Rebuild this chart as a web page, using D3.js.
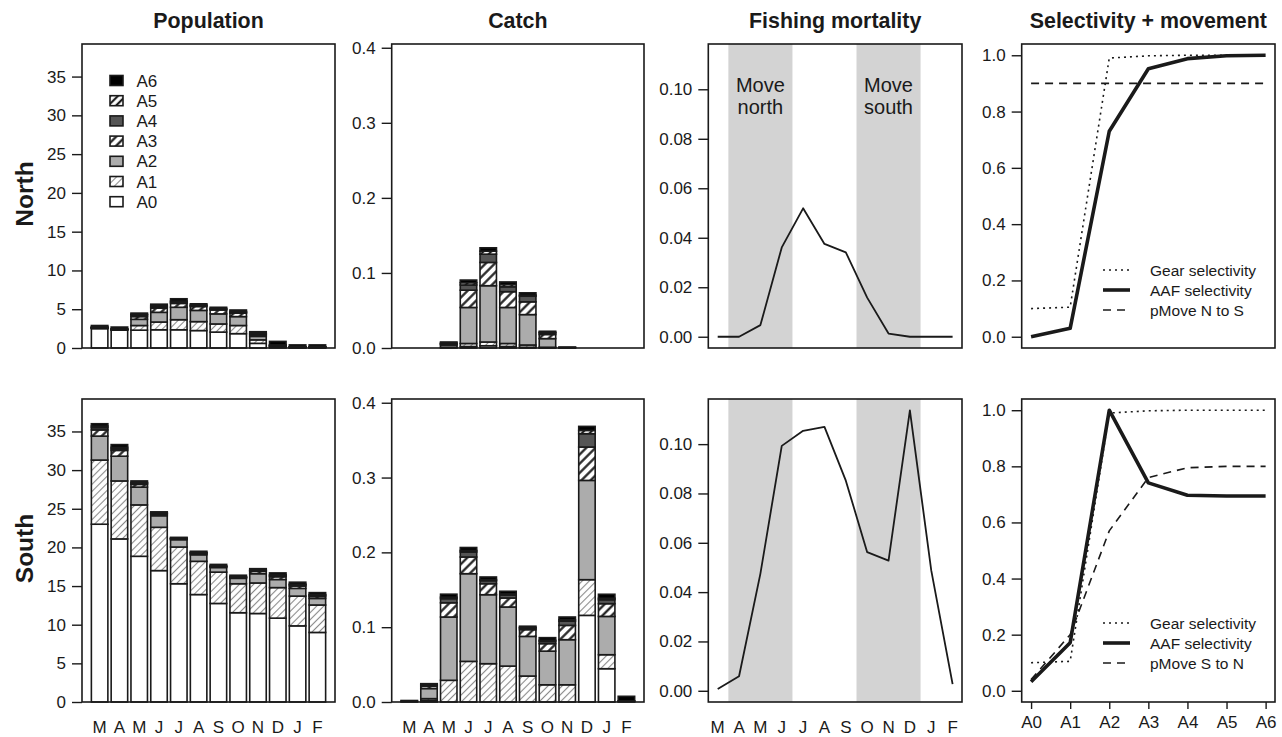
<!DOCTYPE html>
<html><head><meta charset="utf-8">
<script src="https://cdn.jsdelivr.net/npm/d3@7"></script>
<style>
body{margin:0;background:#fff}
svg{display:block}
text{font-family:"Liberation Sans",Arial,Helvetica,sans-serif;fill:#1a1a1a}
</style>
</head><body>
<svg id="c" width="1282" height="737"></svg>
<script>
// ---------------- data ----------------
const months = ["M","A","M","J","J","A","S","O","N","D","J","F"];
const ageLabels = ["A0","A1","A2","A3","A4","A5","A6"];
const colTitles = ["Population","Catch","Fishing mortality","Selectivity + movement"];
const rowLabels = ["North","South"];

// population (rows = age A0..A6, columns = month)
const popNorth = [
  [2.5,2.3,2.3,2.35,2.35,2.25,2.05,1.85,0.6,0.1,0.05,0.05],
  [0.05,0.04,0.6,1.0,1.3,1.15,1.05,1.05,0.45,0.05,0.02,0.02],
  [0.05,0.04,0.8,1.25,1.6,1.45,1.3,1.15,0.45,0.1,0.03,0.03],
  [0.02,0.02,0.35,0.55,0.5,0.5,0.5,0.45,0.2,0.05,0.02,0.02],
  [0.05,0.04,0.2,0.15,0.15,0.1,0.1,0.1,0.1,0.05,0.02,0.02],
  [0.03,0.03,0.1,0.15,0.15,0.1,0.1,0.1,0.1,0.05,0.02,0.02],
  [0.2,0.23,0.15,0.2,0.3,0.15,0.15,0.2,0.2,0.45,0.24,0.24]
];
const popSouth = [
  [23.0,21.1,18.85,17.0,15.3,13.9,12.75,11.55,11.45,10.85,9.85,9.0],
  [8.3,7.5,6.65,5.6,4.75,4.3,4.05,3.75,3.95,3.95,3.85,3.55],
  [3.1,3.2,2.3,1.5,0.95,0.85,0.6,0.7,1.2,1.05,1.0,0.85],
  [0.8,0.75,0.35,0.2,0.1,0.15,0.1,0.1,0.3,0.35,0.3,0.25],
  [0.3,0.2,0.15,0.1,0.05,0.1,0.05,0.05,0.1,0.15,0.15,0.15],
  [0.2,0.2,0.1,0.05,0.05,0.05,0.05,0.05,0.05,0.1,0.1,0.1],
  [0.3,0.35,0.2,0.15,0.1,0.15,0.2,0.2,0.2,0.25,0.25,0.25]
];
// catch
const catchNorth = [
  [0,0,0,0.002,0.003,0.002,0.001,0.0005,0,0,0,0],
  [0,0,0.001,0.004,0.005,0.004,0.003,0.0005,0,0,0,0],
  [0,0,0.003,0.048,0.075,0.048,0.0405,0.0115,0.0005,0,0,0],
  [0,0,0.001,0.023,0.031,0.021,0.017,0.0055,0.0002,0,0,0],
  [0,0,0.001,0.007,0.011,0.0065,0.0075,0.002,0.0001,0,0,0],
  [0,0,0.0005,0.003,0.004,0.003,0.0015,0.001,0,0,0,0],
  [0,0,0.0015,0.0035,0.0045,0.0035,0.003,0.0013,0.0002,0,0,0]
];
const catchSouth = [
  [0,0.002,0,0,0,0,0,0,0,0.1158,0.0445,0],
  [0,0.0025,0.029,0.0543,0.0512,0.048,0.0347,0.023,0.023,0.0477,0.0187,0],
  [0.001,0.0135,0.0846,0.1172,0.0922,0.079,0.053,0.045,0.0603,0.1327,0.0512,0.001],
  [0,0.003,0.019,0.0223,0.0147,0.012,0.009,0.01,0.0191,0.0446,0.017,0],
  [0,0.0015,0.0055,0.0067,0.004,0.004,0.002,0.003,0.0056,0.0178,0.0053,0.0006],
  [0,0.001,0.002,0.002,0.0015,0.0015,0.001,0.0015,0.002,0.0044,0.002,0],
  [0.001,0.001,0.004,0.004,0.0035,0.0035,0.0016,0.0035,0.0036,0.0054,0.0053,0.006]
];
// fishing mortality
const fmNorth = [0,0,0.0047,0.0361,0.0519,0.0375,0.0341,0.0158,0.0013,0,0,0];
const fmSouth = [0.0007,0.0059,0.0475,0.0993,0.1054,0.107,0.0852,0.0562,0.0528,0.1137,0.0488,0.0027];
const moveBands = [[0.5,3.5,"Move","north"],[6.5,9.5,"Move","south"]];
// selectivity + movement
const gearSel = [0.1,0.105,0.99,0.998,1,1,1];
const aafNorth = [0,0.03,0.73,0.952,0.988,0.998,1.0];
const aafSouth = [0.032,0.171,1.0,0.741,0.697,0.694,0.694];
const pMoveNS = [0.9,0.9,0.9,0.9,0.9,0.9,0.9];
const pMoveSN = [0.04,0.2,0.57,0.76,0.795,0.8,0.8];
const selLegendNorth = ["Gear selectivity","AAF selectivity","pMove N to S"];
const selLegendSouth = ["Gear selectivity","AAF selectivity","pMove S to N"];

const popTicks = [0,5,10,15,20,25,30,35];
const catchTicks = [0,0.1,0.2,0.3,0.4];
const fmTicks = [0,0.02,0.04,0.06,0.08,0.10];
const selTicks = [0,0.2,0.4,0.6,0.8,1.0];

// ---------------- layout ----------------
const INK = "#1a1a1a";
const cols = [[82,335],[391.7,644],[708.3,962],[1021.7,1275]];
const rows = [[44,348],[399,702]];
const FONT = "'Liberation Sans',Arial,Helvetica,sans-serif";

const svg = d3.select("#c");
svg.append("rect").attr("width",1282).attr("height",737).attr("fill","#fff");
const defs = svg.append("defs");
function hatch(id, color, width, spacing){
  const p = defs.append("pattern").attr("id",id).attr("patternUnits","userSpaceOnUse")
    .attr("width",spacing).attr("height",spacing).attr("patternTransform","rotate(45)");
  p.append("rect").attr("width",spacing).attr("height",spacing).attr("fill","#fff");
  p.append("line").attr("x1",spacing/2).attr("x2",spacing/2).attr("y1",-1).attr("y2",spacing+1)
    .attr("stroke",color).attr("stroke-width",width);
}
hatch("h1","#8a8a8a",1.1,5);
hatch("h3","#1a1a1a",2.2,6.5);
hatch("h5","#1a1a1a",2.2,5.5);
const ageFill = ["#ffffff","url(#h1)","#acacac","url(#h3)","#555555","url(#h5)","#000000"];

function yAxis(g, y, x0, ticks, fmt){
  const a = g.append("g").attr("transform",`translate(${x0},0)`)
    .call(d3.axisLeft(y).tickValues(ticks).tickFormat(fmt).tickSize(10).tickPadding(6));
  a.select(".domain").remove();
  a.selectAll("line").attr("stroke",INK).attr("stroke-width",1.4);
  a.selectAll("text").attr("font-size",17).attr("font-family",FONT);
  a.attr("font-size",17).attr("font-family",FONT);
}
function box(g, c, r){
  g.append("rect").attr("x",c[0]).attr("y",r[0]).attr("width",c[1]-c[0]).attr("height",r[1]-r[0])
    .attr("fill","none").attr("stroke",INK).attr("stroke-width",1.6);
}

function barPanel(data, c, r, ymax, ticks, fmt, showNames){
  const g = svg.append("g");
  const x = d3.scaleLinear().domain([-0.368,14.968]).range(c);
  const y = d3.scaleLinear().domain([0,ymax]).range([r[1],r[0]]);
  const table = months.map((m,i)=>{ const o={i}; ageLabels.forEach((a,k)=>o[a]=data[k][i]); return o; });
  const series = d3.stack().keys(ageLabels)(table);
  series.forEach((s,k)=>{
    g.append("g").selectAll("rect").data(s.filter(d=>d[1]-d[0]>0)).join("rect")
      .attr("x",d=>x(0.2+d.data.i*1.2)).attr("width",x(1)-x(0))
      .attr("y",d=>y(d[1])).attr("height",d=>y(d[0])-y(d[1]))
      .attr("fill",ageFill[k]).attr("stroke",INK).attr("stroke-width",1.6);
  });
  box(g,c,r);
  yAxis(g,y,c[0],ticks,fmt);
  if(showNames){
    g.selectAll("text.mn").data(months).join("text").attr("class","mn")
      .attr("x",(d,i)=>x(0.7+i*1.2)).attr("y",733).attr("text-anchor","middle")
      .attr("font-size",17).text(d=>d);
  }
  return g;
}

// ---- Population ----
const popG = barPanel(popNorth, cols[0], rows[0], 39.2, popTicks, d3.format("d"), false);
barPanel(popSouth, cols[0], rows[1], 39.2, popTicks, d3.format("d"), true);
// legend
const leg = popG.append("g");
ageLabels.slice().reverse().forEach((a,k)=>{
  const idx = ageLabels.length-1-k;
  const cy = 80.5 + 20.2*k;
  leg.append("rect").attr("x",110).attr("y",cy-5).attr("width",13).attr("height",10)
    .attr("fill",ageFill[idx]).attr("stroke",INK).attr("stroke-width",1.6);
  leg.append("text").attr("x",136.5).attr("y",cy).attr("dy","0.36em").attr("font-size",17).text(a);
});

// ---- Catch ----
barPanel(catchNorth, cols[1], rows[0], 0.405, catchTicks, d3.format(".1f"), false);
barPanel(catchSouth, cols[1], rows[1], 0.405, catchTicks, d3.format(".1f"), true);

// ---- Fishing mortality ----
function fmPanel(vals, r, showNames, showText){
  const c = cols[2];
  const g = svg.append("g");
  const x = d3.scaleLinear().domain([-0.44,11.44]).range(c);
  const y = d3.scaleLinear().domain([-0.00455,0.1183]).range([r[1],r[0]]);
  moveBands.forEach(b=>{
    g.append("rect").attr("x",x(b[0])).attr("width",x(b[1])-x(b[0])).attr("y",r[0]).attr("height",r[1]-r[0])
      .attr("fill","#d3d3d3");
    if(showText){
      const cx = x((b[0]+b[1])/2);
      g.append("text").attr("x",cx).attr("y",92).attr("text-anchor","middle").attr("font-size",20).text(b[2]);
      g.append("text").attr("x",cx).attr("y",114).attr("text-anchor","middle").attr("font-size",20).text(b[3]);
    }
  });
  g.append("path").datum(vals).attr("fill","none").attr("stroke",INK).attr("stroke-width",1.8)
    .attr("stroke-linejoin","round")
    .attr("d",d3.line().x((d,i)=>x(i)).y(d=>y(d)));
  box(g,c,r);
  yAxis(g,y,c[0],fmTicks,d3.format(".2f"));
  if(showNames){
    g.selectAll("text.mn").data(months).join("text").attr("class","mn")
      .attr("x",(d,i)=>x(i)).attr("y",733).attr("text-anchor","middle").attr("font-size",17).text(d=>d);
  }
}
fmPanel(fmNorth, rows[0], false, true);
fmPanel(fmSouth, rows[1], true, false);

// ---- Selectivity + movement ----
function selPanel(aaf, pmove, legendText, r, showAxis, legY){
  const c = cols[3];
  const g = svg.append("g");
  const x = d3.scaleLinear().domain([-0.24,6.24]).range(c);
  const y = d3.scaleLinear().domain([-0.04,1.04]).range([r[1],r[0]]);
  const line = d3.line().x((d,i)=>x(i)).y(d=>y(d));
  const styles = [
    {data:gearSel, w:1.6, dash:"2,4"},
    {data:aaf, w:3.6, dash:null},
    {data:pmove, w:1.6, dash:"8,6"}
  ];
  styles.forEach(s=>{
    g.append("path").datum(s.data).attr("fill","none").attr("stroke",INK).attr("stroke-width",s.w)
      .attr("stroke-dasharray",s.dash).attr("stroke-linejoin","round").attr("d",line);
  });
  box(g,c,r);
  yAxis(g,y,c[0],selTicks,d3.format(".1f"));
  if(showAxis){
    const a = g.append("g").attr("transform",`translate(0,${r[1]})`)
      .call(d3.axisBottom(x).tickValues(d3.range(7)).tickFormat(i=>ageLabels[i]).tickSize(7).tickPadding(7));
    a.select(".domain").remove();
    a.selectAll("line").attr("stroke",INK).attr("stroke-width",1.4);
    a.selectAll("text").attr("font-size",17).attr("font-family",FONT);
  }
  styles.forEach((s,k)=>{
    const cy = legY + 20*k;
    g.append("line").attr("x1",1103).attr("x2",1130).attr("y1",cy).attr("y2",cy)
      .attr("stroke",INK).attr("stroke-width",s.w).attr("stroke-dasharray",s.dash);
    g.append("text").attr("x",1150).attr("y",cy).attr("dy","0.36em").attr("font-size",15.5).text(legendText[k]);
  });
}
selPanel(aafNorth, pMoveNS, selLegendNorth, rows[0], false, 270);
selPanel(aafSouth, pMoveSN, selLegendSouth, rows[1], true, 623);

// ---- titles ----
colTitles.forEach((t,i)=>{
  svg.append("text").attr("x",(cols[i][0]+cols[i][1])/2).attr("y",27.7).attr("text-anchor","middle")
    .attr("font-size",21.4).attr("font-weight","bold").text(t);
});
rowLabels.forEach((t,i)=>{
  const cy = (rows[i][0]+rows[i][1])/2 - 2;
  svg.append("text").attr("transform",`translate(33,${cy}) rotate(-90)`).attr("text-anchor","middle")
    .attr("font-size",24.5).attr("font-weight","bold").text(t);
});
</script>
</body></html>
